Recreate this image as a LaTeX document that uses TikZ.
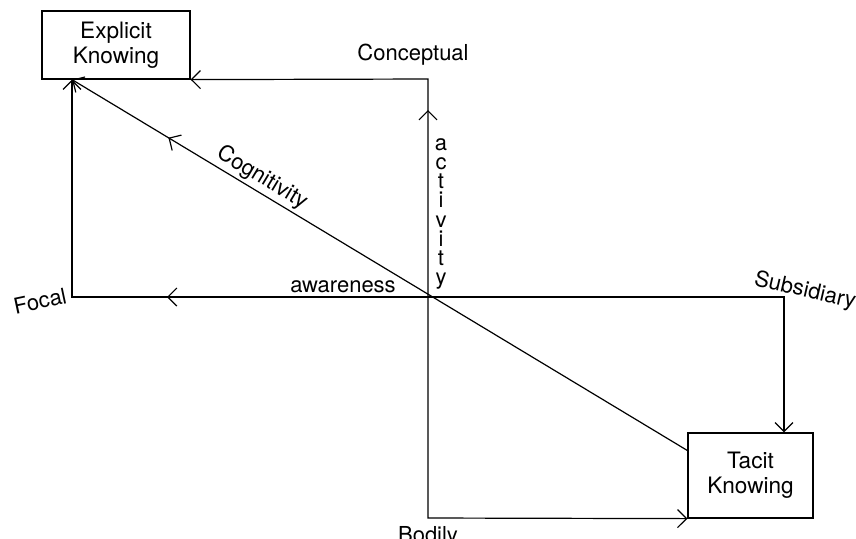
\documentclass[tikz,border=0pt]{standalone}
\usepackage{fontspec}
\setmainfont{TeX Gyre Heros}
\usetikzlibrary{arrows.meta,decorations.markings}

\tikzset{
  box/.style={draw, align=center, inner sep=0pt, font=\fontsize{11.3}{12.5}\selectfont},
  lbl/.style={font=\fontsize{11}{12}\selectfont, inner sep=0pt},
  midarrow/.style={postaction={decorate},
    decoration={markings, mark=at position #1 with {\arrow{>}}}}
}

\begin{document}
\begin{tikzpicture}[x=0.5pt, y=-0.5pt, line width=0.6pt,
    >={Straight Barb[length=4.5pt, width=9pt]}]
    \useasboundingbox (0,0) rectangle (856,538);

    % Knowing boxes
    \node[box, minimum width=74pt, minimum height=34pt] (expl) at (116,45) {Explicit\\Knowing};
    \node[box, minimum width=62.5pt, minimum height=42.5pt] (tacit) at (750.5,475.5) {Tacit\\Knowing};

    % Corners
    \coordinate (c) at (428,297);
    \coordinate (foc) at (72,297);
    \coordinate (con) at (428,79);
    \coordinate (sub) at (784,297);
    \coordinate (bod) at (428,518);

    % Connectors
    \draw[->, midarrow=130.5pt] (c) -- (foc) -- (expl.south -| foc);
    \draw[->, midarrow=93.5pt] (c) -- (con) -- (expl.south east);
    \draw[->] (c) -- (sub) -- (tacit.north -| sub);
    \draw[->] (c) -- (bod) -- (tacit.south west);
    \draw[->, midarrow=303pt] ([yshift=12.5pt]tacit.west) -- (expl.south -| foc);

    % Labels
    \node[lbl] (conl) at (413,55) {Conceptual};
    \node[lbl, align=center, font=\fontsize{11}{9.6}\selectfont] (actl) at (441,214)
      {a\\c\\t\\i\\v\\i\\t\\y};
    \node[lbl, rotate=-31] (cogl) at (262,178) {Cognitivity};
    \node[lbl] (awal) at (343,287) {awareness};
    \node[lbl, rotate=12] (focl) at (40,301) {Focal};
    \node[lbl, rotate=-13] (subl) at (805,291) {Subsidiary};
    \node[lbl] (bodl) at (428,537) {Bodily};
\end{tikzpicture}
\end{document}
